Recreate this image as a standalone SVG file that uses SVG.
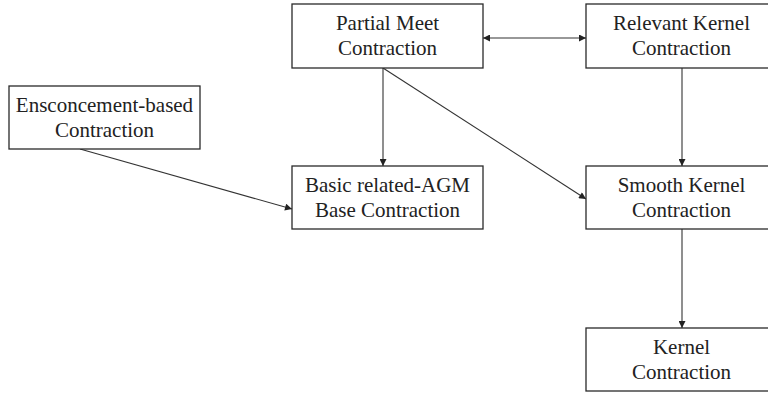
<svg xmlns="http://www.w3.org/2000/svg" width="768" height="393" viewBox="0 0 768 393">
<style>
.box{fill:#fff;stroke:#2a2a2a;stroke-width:1.3}
.lbl{font-size:21px;fill:#222;text-anchor:middle}
.edge{stroke:#333;stroke-width:1.1;fill:none}
</style>
<defs>
<marker id="ah" viewBox="0 0 10 10" refX="10" refY="5" markerWidth="9" markerHeight="7" markerUnits="userSpaceOnUse" orient="auto-start-reverse">
<path d="M0,0 L10,5 L0,10 z" fill="#222"/>
</marker>
</defs>
<rect width="768" height="393" fill="#fff"/>
<g id="connectors">
<line class="edge" x1="483" y1="38" x2="586" y2="38" marker-start="url(#ah)" marker-end="url(#ah)"/>
<line class="edge" x1="383" y1="68" x2="383" y2="166" marker-end="url(#ah)"/>
<line class="edge" x1="383" y1="68" x2="586" y2="199" marker-end="url(#ah)"/>
<line class="edge" x1="682" y1="68" x2="682" y2="166" marker-end="url(#ah)"/>
<line class="edge" x1="80" y1="149" x2="292" y2="209" marker-end="url(#ah)"/>
<line class="edge" x1="682" y1="229" x2="682" y2="328" marker-end="url(#ah)"/>
</g>
<g font-family="Liberation Serif, Times New Roman, DejaVu Serif, serif">
<g id="partial-meet">
<rect class="box" x="292" y="4" width="191" height="64"/>
<text class="lbl" x="387.5" y="30">Partial Meet</text>
<text class="lbl" x="387.5" y="55">Contraction</text>
</g>
<g id="relevant-kernel">
<rect class="box" x="586" y="4" width="191" height="64"/>
<text class="lbl" x="681.5" y="30">Relevant Kernel</text>
<text class="lbl" x="681.5" y="55">Contraction</text>
</g>
<g id="ensconcement">
<rect class="box" x="9" y="86" width="191" height="63"/>
<text class="lbl" x="104.5" y="112">Ensconcement-based</text>
<text class="lbl" x="104.5" y="137">Contraction</text>
</g>
<g id="basic-agm">
<rect class="box" x="292" y="166" width="191" height="63"/>
<text class="lbl" x="387.5" y="192">Basic related-AGM</text>
<text class="lbl" x="387.5" y="217">Base Contraction</text>
</g>
<g id="smooth-kernel">
<rect class="box" x="586" y="166" width="191" height="63"/>
<text class="lbl" x="681.5" y="192">Smooth Kernel</text>
<text class="lbl" x="681.5" y="217">Contraction</text>
</g>
<g id="kernel">
<rect class="box" x="586" y="328" width="191" height="63"/>
<text class="lbl" x="681.5" y="354">Kernel</text>
<text class="lbl" x="681.5" y="379">Contraction</text>
</g>
</g>
</svg>
